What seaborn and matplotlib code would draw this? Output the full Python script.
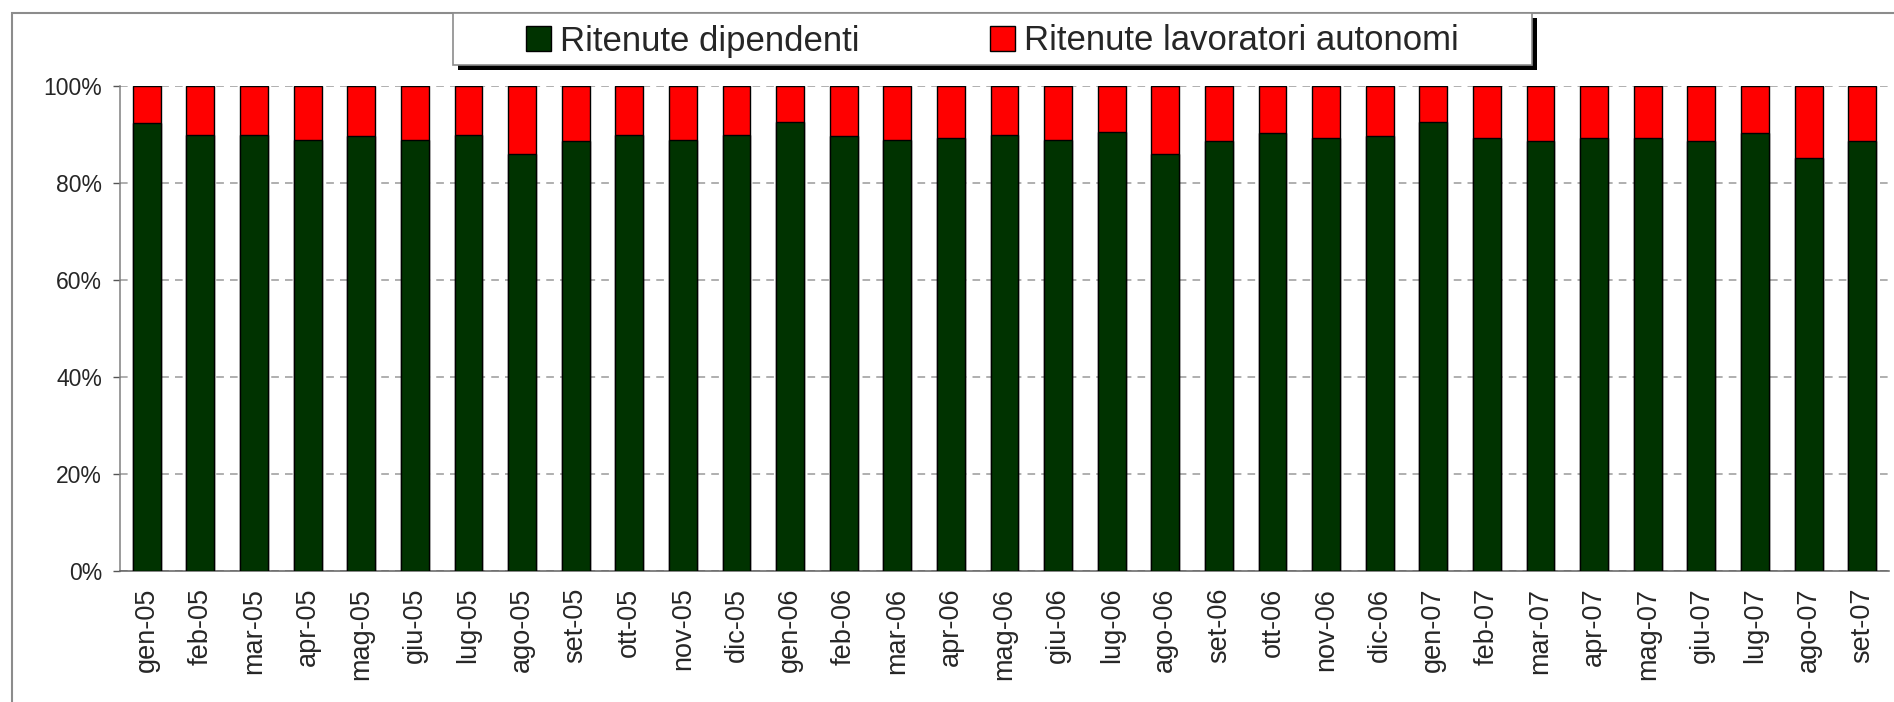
import numpy as np
import pandas as pd
import matplotlib
matplotlib.use("Agg")
import matplotlib.pyplot as plt
from matplotlib.patches import Rectangle, Patch
import seaborn as sns

# --- data ---
months = ["gen-05", "feb-05", "mar-05", "apr-05", "mag-05", "giu-05", "lug-05", "ago-05",
          "set-05", "ott-05", "nov-05", "dic-05", "gen-06", "feb-06", "mar-06", "apr-06",
          "mag-06", "giu-06", "lug-06", "ago-06", "set-06", "ott-06", "nov-06", "dic-06",
          "gen-07", "feb-07", "mar-07", "apr-07", "mag-07", "giu-07", "lug-07", "ago-07",
          "set-07"]
dipendenti = [92.3, 90.0, 90.0, 88.9, 89.6, 88.9, 90.0, 86.0,
              88.7, 90.0, 88.9, 90.0, 92.5, 89.6, 88.9, 89.3,
              90.0, 88.9, 90.6, 85.9, 88.7, 90.4, 89.3, 89.6,
              92.5, 89.3, 88.7, 89.3, 89.3, 88.7, 90.3, 85.2,
              88.7]
autonomi = [100 - v for v in dipendenti]

yticks = [0, 20, 40, 60, 80, 100]
ytick_labels = [f"{t}%" for t in yticks]
series_names = ["Ritenute dipendenti", "Ritenute lavoratori autonomi"]
colors = ["#003300", "#FF0000"]

df = pd.DataFrame({"mese": months, "dip": dipendenti, "aut": autonomi})
df["totale"] = df["dip"] + df["aut"]

sns.set_style("white")
plt.rcParams["font.family"] = ["Liberation Sans", "DejaVu Sans"]

W, H = 1894, 702
fig = plt.figure(figsize=(W / 100, H / 100), dpi=100)
ax = fig.add_axes([120 / W, 1 - 571 / H, (1889 - 120) / W, (571 - 86) / H])

# stacked 100% bars: full height in red, green part on top of it
sns.barplot(data=df, x="mese", y="totale", color=colors[1], width=0.52,
            edgecolor="black", linewidth=1.0, saturation=1, ax=ax, zorder=3)
sns.barplot(data=df, x="mese", y="dip", color=colors[0], width=0.52,
            edgecolor="black", linewidth=1.0, saturation=1, ax=ax, zorder=3)

ax.set_xlim(-0.5, len(months) - 0.5)
ax.set_ylim(0, 100)
ax.set_xlabel("")
ax.set_ylabel("")

ax.set_yticks(yticks)
ax.set_yticklabels(ytick_labels, fontsize=16.5)
ax.yaxis.grid(True, color="#9a9a9a", linestyle=(0, (5, 4)), linewidth=1.1, zorder=0)
ax.set_axisbelow(True)

ax.set_xticks(range(len(months)))
ax.set_xticklabels(months, rotation=90, fontsize=19.5)
ax.set_xticks(np.arange(-0.5, len(months)), minor=True)
ax.tick_params(axis="x", which="major", length=0, pad=12)
ax.tick_params(axis="x", which="minor", length=5, width=1, color="#555555", direction="out")
ax.tick_params(axis="y", length=5, width=1, color="#555555", direction="out", left=True, pad=8)

for s in ["top", "right"]:
    ax.spines[s].set_visible(False)
ax.spines["left"].set_color("#808080")
ax.spines["bottom"].set_color("#606060")
ax.spines["left"].set_linewidth(1.1)
ax.spines["bottom"].set_linewidth(1.1)

# outer chart frame (cut at right and bottom)
fig.patches.append(Rectangle((12 / W, -0.1), 1.2, 1 - 13 / H + 0.1, transform=fig.transFigure,
                             fill=False, edgecolor="#8c8c8c", linewidth=1.5, zorder=1))

# legend box with black shadow
lx0, lx1, ly0, ly1 = 453, 1532, 13, 65
fig.patches.append(Rectangle(((lx0 + 5) / W, 1 - (ly1 + 5) / H), (lx1 - lx0) / W, (ly1 - ly0) / H,
                             transform=fig.transFigure, facecolor="black", edgecolor="none", zorder=2))
fig.patches.append(Rectangle((lx0 / W, 1 - ly1 / H), (lx1 - lx0) / W, (ly1 - ly0) / H,
                             transform=fig.transFigure, facecolor="white", edgecolor="#8c8c8c",
                             linewidth=1.2, zorder=3))
handles = [Patch(facecolor=c, edgecolor="black", linewidth=1.0) for c in colors]
fig.legend(handles, series_names, loc="center", ncol=2, frameon=False, fontsize=25,
           bbox_to_anchor=((lx0 + lx1) / 2 / W, 1 - (ly0 + ly1 + 4) / 2 / H),
           handlelength=0.72, handleheight=0.72, handletextpad=0.26, columnspacing=3.75,
           borderaxespad=0)

fig.savefig("out.png", dpi=100)
